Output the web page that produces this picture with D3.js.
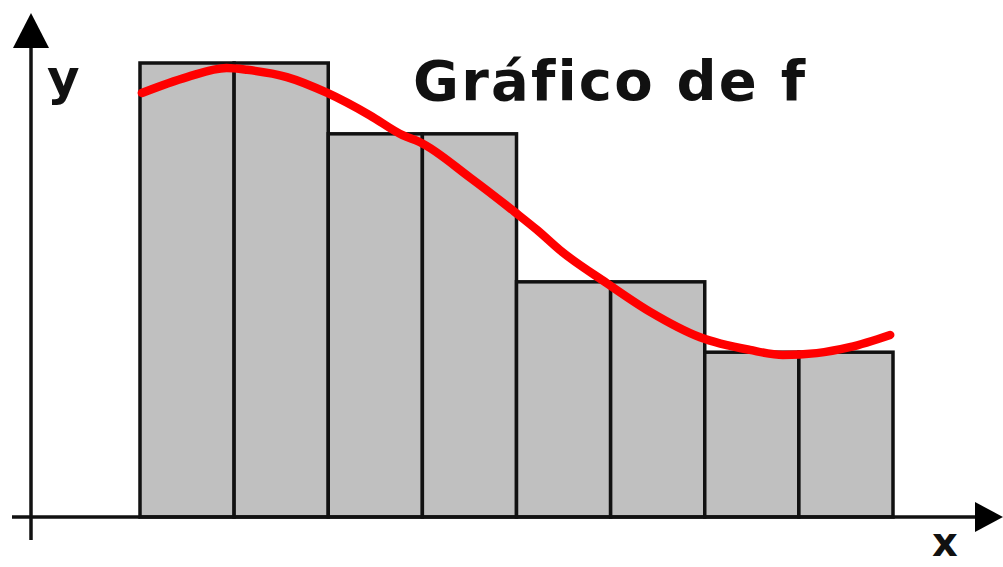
<!DOCTYPE html>
<html>
<head>
<meta charset="utf-8">
<script src="https://cdn.jsdelivr.net/npm/d3@7"></script>
<style>
  html, body { margin: 0; padding: 0; background: #fff; }
  svg { display: block; }
  text { font-variant-ligatures: none; }
</style>
</head>
<body>
<svg id="chart" width="1003" height="567"></svg>
<script>
// subintervals (left edge) and rectangle heights
var intervals = [0, 1, 2, 3, 4, 5, 6, 7];
var heights = [10, 10, 8.44, 8.44, 5.18, 5.18, 3.63, 3.63];

var curve_x = [0.02, 0.5, 0.92, 1.14, 1.56, 1.99, 2.44, 2.79, 2.97, 3.51, 3.98, 4.22, 4.46, 4.96, 5.42, 5.95, 6.48, 6.83, 7.19, 7.54, 7.97];
var curve_y = [9.34, 9.69, 9.89, 9.85, 9.69, 9.34, 8.85, 8.41, 8.26, 7.47, 6.72, 6.32, 5.88, 5.15, 4.52, 3.96, 3.68, 3.57, 3.61, 3.74, 4.01];

var title = "Gráfico de f";
var x_label = "x", y_label = "y";

var svg = d3.select("#chart");

var xscale = d3.scaleLinear().domain([0, 8]).range([140, 893]);
var yscale = d3.scaleLinear().domain([0, 10]).range([517, 63]);

// axis extents in data units
var x0 = xscale.invert(31), x_end = xscale.invert(975), x_start = xscale.invert(12);
var y_low = yscale.invert(540), y_end = yscale.invert(48);

// bars
svg.append("g")
    .selectAll("rect")
    .data(intervals)
    .enter().append("rect")
    .attr("x", function(d) { return xscale(d); })
    .attr("y", function(d, i) { return yscale(heights[i]); })
    .attr("width", function(d) { return xscale(d + 1) - xscale(d); })
    .attr("height", function(d, i) { return yscale(0) - yscale(heights[i]); })
    .attr("fill", "#c0c0c0")
    .attr("stroke", "#111")
    .attr("stroke-width", 3.5);

// curve
var line = d3.line()
    .x(function(d) { return xscale(d[0]); })
    .y(function(d) { return yscale(d[1]); })
    .curve(d3.curveMonotoneX);

svg.append("path")
    .datum(d3.zip(curve_x, curve_y))
    .attr("d", line)
    .attr("fill", "none")
    .attr("stroke", "#ff0000")
    .attr("stroke-width", 8.5)
    .attr("stroke-linecap", "round");

// axes
var axes = svg.append("g").attr("stroke", "#111").attr("stroke-width", 3.5);
axes.append("line")
    .attr("x1", xscale(x_start)).attr("x2", xscale(x_end))
    .attr("y1", yscale(0)).attr("y2", yscale(0));
axes.append("line")
    .attr("x1", xscale(x0)).attr("x2", xscale(x0))
    .attr("y1", yscale(y_low)).attr("y2", yscale(y_end));

// arrow heads
var ax = xscale(x0), ay = yscale(y_end);
svg.append("path")
    .attr("d", "M" + ax + "," + (ay - 35) + "L" + (ax + 18) + "," + ay + "L" + (ax - 18) + "," + ay + "Z")
    .attr("fill", "#000");
var bx = xscale(x_end), by = yscale(0);
svg.append("path")
    .attr("d", "M" + (bx + 28) + "," + by + "L" + bx + "," + (by - 15) + "L" + bx + "," + (by + 15) + "Z")
    .attr("fill", "#000");

// texts
svg.append("text")
    .attr("x", 413).attr("y", 100)
    .attr("font-family", "DejaVu Sans")
    .attr("font-weight", "bold")
    .attr("font-size", 56)
    .attr("textLength", 392)
    .attr("lengthAdjust", "spacing")
    .attr("fill", "#111")
    .text(title);

svg.append("text")
    .attr("x", 47).attr("y", 95)
    .attr("font-family", "DejaVu Sans")
    .attr("font-weight", "bold")
    .attr("font-size", 50)
    .attr("fill", "#111")
    .text(y_label);

svg.append("text")
    .attr("x", 932).attr("y", 556)
    .attr("font-family", "DejaVu Sans")
    .attr("font-weight", "bold")
    .attr("font-size", 40)
    .attr("fill", "#111")
    .text(x_label);
</script>
</body>
</html>
